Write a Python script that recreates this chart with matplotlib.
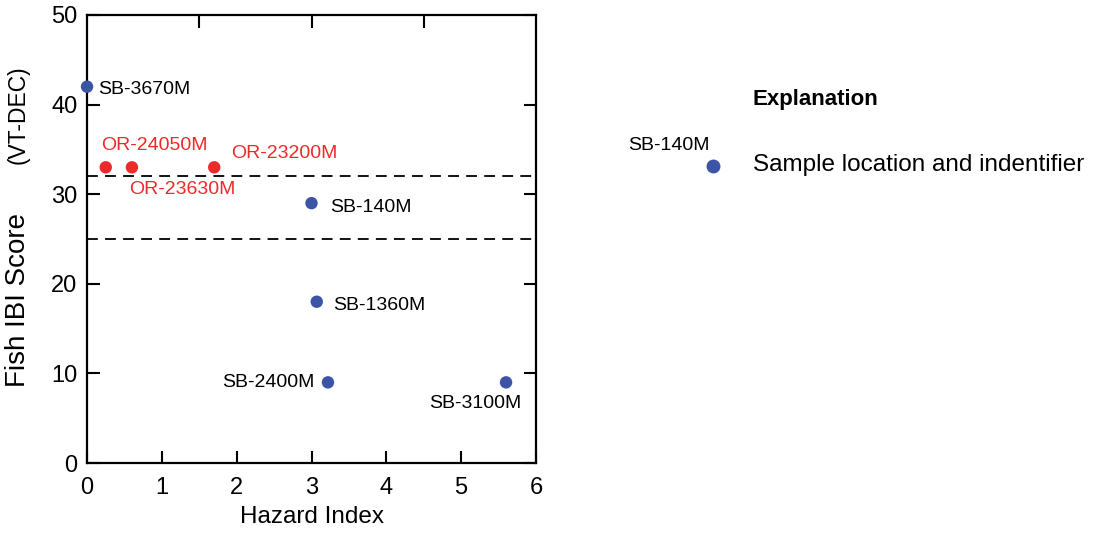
import matplotlib.pyplot as plt

# Data
sites = ['SB-3670M', 'OR-24050M', 'OR-23630M', 'OR-23200M',
         'SB-140M', 'SB-1360M', 'SB-2400M', 'SB-3100M']
hazard_index = [0.0, 0.25, 0.6, 1.7, 3.0, 3.07, 3.22, 5.6]
ibi_score = [42, 33, 33, 33, 29, 18, 9, 9]
group = ['SB', 'OR', 'OR', 'OR', 'SB', 'SB', 'SB', 'SB']
thresholds = [32, 25]
x_ticks = [0, 1, 2, 3, 4, 5, 6]
y_ticks = [0, 10, 20, 30, 40, 50]

plt.rcParams['font.family'] = ['Liberation Sans', 'DejaVu Sans']

blue = '#3b54a5'
red = '#ed2a2a'
colors = {'SB': blue, 'OR': red}

fig = plt.figure(figsize=(10.99, 5.33), dpi=100)
ax = fig.add_axes([0.0792, 0.1313, 0.4085, 0.8406])

for y in thresholds:
    ax.axhline(y, color='black', lw=1.3, ls=(0, (6, 4)), zorder=1)

ax.scatter(hazard_index, ibi_score, s=80, c=[colors[g] for g in group],
           zorder=3, clip_on=False, linewidths=0)

# label offsets in pixels (dx, dy, ha)
offsets = {
    'SB-3670M': (11, -3, 'left'),
    'OR-24050M': (-5, 22, 'left'),
    'OR-23630M': (-3, -22, 'left'),
    'OR-23200M': (17, 14, 'left'),
    'SB-140M': (19, -4, 'left'),
    'SB-1360M': (16, -4, 'left'),
    'SB-2400M': (-13, 0, 'right'),
    'SB-3100M': (15, -21, 'right'),
}
for name, x, y, g in zip(sites, hazard_index, ibi_score, group):
    dx, dy, ha = offsets[name]
    ax.annotate(name, (x, y), xytext=(dx, dy), textcoords='offset pixels',
                ha=ha, va='center', fontsize=14,
                color=red if g == 'OR' else 'black')

ax.set_xlim(0, 6)
ax.set_ylim(0, 50)
ax.set_xticks(x_ticks)
ax.set_yticks(y_ticks)
ax.tick_params(axis='both', direction='in', length=9, width=1.5, labelsize=17)
ax.tick_params(axis='x', pad=10)
ax.tick_params(axis='y', pad=7, right=True)
ax.tick_params(axis='x', top=False)
for s in ax.spines.values():
    s.set_linewidth(1.6)

# top ticks sit at half-unit spacing
sec = ax.secondary_xaxis('top')
sec.set_xticks([1.5, 3, 4.5])
sec.tick_params(direction='in', length=9, width=1.5, labeltop=False)
sec.spines['top'].set_visible(False)

ax.set_xlabel('Hazard Index', fontsize=17.5, labelpad=5)
fig.text(18 / 1099, 1 - 300 / 533, 'Fish IBI Score', fontsize=20, rotation=90,
         ha='center', va='center')
fig.text(18 / 1099, 1 - 115 / 533, '(VT-DEC)', fontsize=16.5, rotation=90,
         ha='center', va='center')

# explanation box
fig.text(753 / 1099, 1 - 100 / 533, 'Explanation', fontsize=16, fontweight='bold',
         va='center', ha='left')
fig.text(753 / 1099, 1 - 165 / 533, 'Sample location and indentifier', fontsize=17.5,
         va='center', ha='left')
fig.text(710 / 1099, 1 - 146 / 533, 'SB-140M', fontsize=14, va='center', ha='right')
fig.add_artist(plt.Line2D([713 / 1099], [1 - 166 / 533], marker='o', markersize=9,
                          color=blue, linestyle='none', transform=fig.transFigure))

fig.savefig('out.png', dpi=100)
